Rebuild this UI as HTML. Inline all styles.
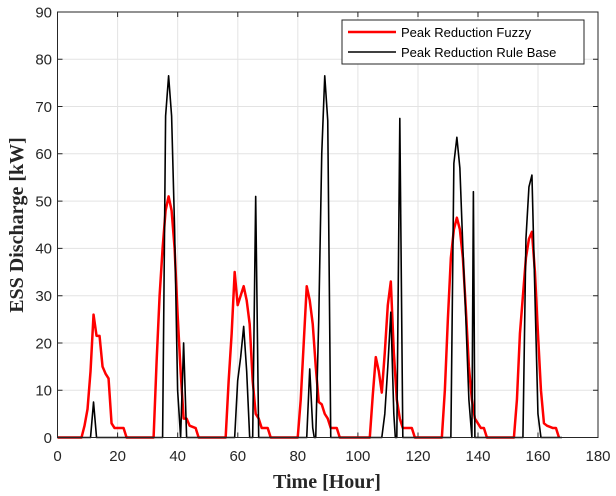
<!DOCTYPE html>
<html><head><style>body{margin:0;background:#fff}svg{display:block}</style></head><body>
<svg width="616" height="496" xmlns="http://www.w3.org/2000/svg" font-family="Liberation Sans, sans-serif">
<rect width="616" height="496" fill="#fff"/>
<g stroke="#e3e3e3" stroke-width="1">
<line x1="117.6" y1="12" x2="117.6" y2="437.5"/><line x1="177.7" y1="12" x2="177.7" y2="437.5"/><line x1="237.8" y1="12" x2="237.8" y2="437.5"/><line x1="297.8" y1="12" x2="297.8" y2="437.5"/><line x1="357.9" y1="12" x2="357.9" y2="437.5"/><line x1="418" y1="12" x2="418" y2="437.5"/><line x1="478" y1="12" x2="478" y2="437.5"/><line x1="538" y1="12" x2="538" y2="437.5"/>
<line x1="57.5" y1="390.2" x2="598" y2="390.2"/><line x1="57.5" y1="343" x2="598" y2="343"/><line x1="57.5" y1="295.7" x2="598" y2="295.7"/><line x1="57.5" y1="248.4" x2="598" y2="248.4"/><line x1="57.5" y1="201.1" x2="598" y2="201.1"/><line x1="57.5" y1="153.8" x2="598" y2="153.8"/><line x1="57.5" y1="106.5" x2="598" y2="106.5"/><line x1="57.5" y1="59.3" x2="598" y2="59.3"/>
</g>
<g stroke="#262626" stroke-width="1">
<path d="M117.6,437.5v-5M177.7,437.5v-5M237.8,437.5v-5M297.8,437.5v-5M357.9,437.5v-5M418,437.5v-5M478,437.5v-5M538,437.5v-5M117.6,12v5M177.7,12v5M237.8,12v5M297.8,12v5M357.9,12v5M418,12v5M478,12v5M538,12v5"/>
<path d="M57.5,390.2h5M57.5,343h5M57.5,295.7h5M57.5,248.4h5M57.5,201.1h5M57.5,153.8h5M57.5,106.5h5M57.5,59.3h5M598,390.2h-5M598,343h-5M598,295.7h-5M598,248.4h-5M598,201.1h-5M598,153.8h-5M598,106.5h-5M598,59.3h-5"/>
</g>
<g transform="translate(57.5,437.5) scale(3.0028,-4.7278)" fill="none" stroke-linejoin="round">
<polyline vector-effect="non-scaling-stroke" stroke="#ff0000" stroke-width="2.5" points="0,0 8,0 9,2.5 10,6 11,14 12,26 13,21.5 14,21.5 15,15 16,13.5 17,12.5 18,3 19,2 22,2 23,0 32,0 33,16 34,30 35,40 36,48 37,51 38,48 39,40 40,26 41,14 42,4 43,4 44,2.5 46,2 47,0 56,0 57,12 58,22 59,35 60,28 61,30 62,32 63,29 64,24 65,12 66,5 67,4 68,2 70,2 71,0 80,0 81,8 82,20 83,32 84,29 85,24 86,15 87,7.5 88,7 89,5 90,4 91,2 93,2 94,0 104,0 105,9 106,17 107,14 108,9.5 109,18 110,28 111,33 112,18 113,8 114,4 115,2 118,2 119,0 128,0 129,10 130,25 131,38 132,44 133,46.5 134,44 135,38 136,27 137,15 138,8 139,4 140,3 141,2 142,2 143,0 152,0 153,8 154,22 155,30 156,38 157,42 158,43.5 159,35 160,22 161,10 162,3 163,2.5 165,2 166,2 167,0"/>
<polyline vector-effect="non-scaling-stroke" stroke="#000" stroke-width="1.6" points="0,0 11,0 12,7.5 13,0 35,0 36,68 37,76.5 38,68 39,44 40,10 41,0 42,20 43,0 59,0 60,12 61,17 62,23.5 63,14 64,0 65,0 66,51 67,0 83,0 84,14.5 85,2 85.5,0 86,0 87,25 88,60 89,76.5 90,67 91,0 108,0 109,5 110,15 111,26.5 112,5 112.5,0 113,0 114,67.5 115,0 131,0 132,58 133,63.5 134,57 135,40 136,25 137,8 138,0 138.5,52 139,0 155,0 156,42 157,53 158,55.5 159,30 160,5 161,0 168,0"/>
</g>
<rect x="57.5" y="12" width="540.5" height="425.5" fill="none" stroke="#262626" stroke-width="1"/>
<g fill="#262626" font-size="15" text-anchor="middle">
<text x="57.5" y="461">0</text><text x="117.6" y="461">20</text><text x="177.7" y="461">40</text><text x="237.8" y="461">60</text><text x="297.8" y="461">80</text><text x="357.9" y="461">100</text><text x="418" y="461">120</text><text x="478" y="461">140</text><text x="538" y="461">160</text><text x="598" y="461">180</text>
</g>
<g fill="#262626" font-size="15" text-anchor="end">
<text x="52" y="443">0</text><text x="52" y="395.5">10</text><text x="52" y="348.3">20</text><text x="52" y="301">30</text><text x="52" y="253.7">40</text><text x="52" y="206.4">50</text><text x="52" y="159.1">60</text><text x="52" y="111.8">70</text><text x="52" y="64.6">80</text><text x="52" y="17.3">90</text>
</g>
<text x="327" y="488" font-family="Liberation Serif, serif" font-weight="bold" font-size="20" text-anchor="middle" fill="#262626">Time [Hour]</text>
<text transform="translate(23,225) rotate(-90)" font-family="Liberation Serif, serif" font-weight="bold" font-size="20" text-anchor="middle" fill="#262626">ESS Discharge [kW]</text>
<rect x="342" y="20" width="242" height="44" fill="#fff" stroke="#262626" stroke-width="1"/>
<line x1="348" y1="32" x2="396" y2="32" stroke="#ff0000" stroke-width="2.5"/>
<line x1="348" y1="52" x2="396" y2="52" stroke="#000" stroke-width="1.6"/>
<text x="401" y="37" font-size="13" fill="#000">Peak Reduction Fuzzy</text>
<text x="401" y="57" font-size="13" fill="#000">Peak Reduction Rule Base</text>
</svg>
</body></html>
